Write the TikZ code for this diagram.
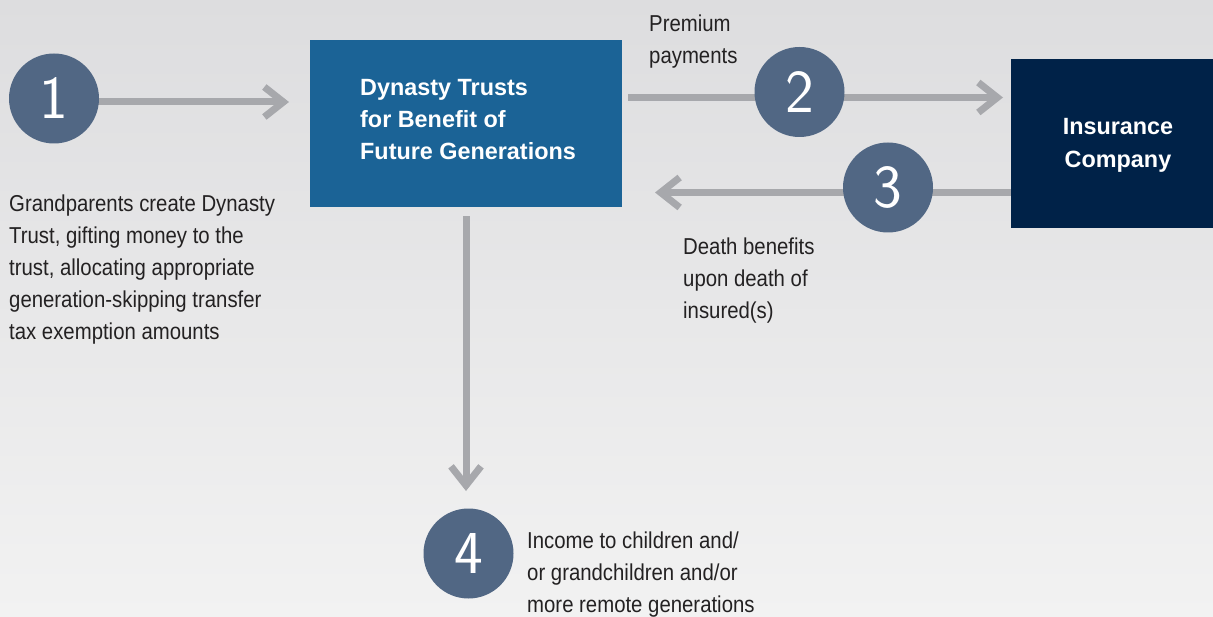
\documentclass[tikz,border=0pt]{standalone}
\usepackage{fontspec}
\setmainfont{Liberation Sans}[FakeStretch=0.885]
\newfontfamily\boldfam{Liberation Sans}[FakeStretch=0.995]
\usetikzlibrary{arrows.meta,backgrounds}
\definecolor{circfill}{RGB}{81,103,132}
\definecolor{linegray}{RGB}{167,168,172}
\definecolor{dynblue}{RGB}{27,99,150}
\definecolor{navy}{RGB}{0,34,72}
\definecolor{txtgray}{RGB}{35,33,34}
\definecolor{bgtop}{RGB}{221,221,223}
\definecolor{bgbot}{RGB}{242,242,242}
\tikzset{
  num/.style={circle, fill=circfill, minimum size=90pt, inner sep=0pt, text=white,
    font=\sffamily\fontsize{61}{61}\selectfont},
  conn/.style={draw=linegray, line width=7pt, -{Straight Barb[length=19pt,width=30pt]}},
  desc/.style={anchor=north west, inner sep=0pt, align=left, text=txtgray,
    font=\fontsize{23}{32}\selectfont},
  boxtxt/.style={inner sep=0pt, text=white, font=\boldfam\bfseries\fontsize{23.5}{32.3}\selectfont},
}
\begin{document}
\begin{tikzpicture}[x=1pt,y=-1pt]
\useasboundingbox (0,0) rectangle (1213,617);
\begin{pgfonlayer}{background}
\shade[top color=bgtop, bottom color=bgbot] (0,0) rectangle (1213,617);
\end{pgfonlayer}
% boxes
\node[fill=dynblue, anchor=north west, minimum width=312pt, minimum height=167pt, inner sep=0pt] (dyn) at (310,40) {};
\node[fill=navy, anchor=north west, minimum width=202pt, minimum height=169pt, inner sep=0pt] (ins) at (1011,59) {};
\node[boxtxt, anchor=north west, align=left] (dyntxt) at (360,79) {Dynasty Trusts\\for Benefit of\\Future Generations};
\node[boxtxt, anchor=north, align=center] (instxt) at (1118,118.5) {Insurance\\Company};
% circles
\node[num] (c1) at (54,98.5) {1};
\node[num] (c2) at (799.5,92) {2};
\node[num] (c3) at (888,187.5) {3};
\node[num] (c4) at (468.5,553.5) {4};
% arrow end points
\coordinate (t1) at (289,102);
\coordinate (t2) at (1003,97.5);
\coordinate (t3) at (655,192.5);
\coordinate (t4) at (466,491);
\begin{pgfonlayer}{background}
\draw[conn] (c1 |- t1) -- (t1);
\draw[conn, shorten <=6pt] (dyn.east |- t2) -- (t2);
\draw[conn] (ins.west |- t3) -- (t3);
\draw[conn, shorten <=9pt] (dyn.south -| t4) -- (t4);
\end{pgfonlayer}
% descriptions
\node[desc] (d1) at (9,195) {Grandparents create Dynasty\\Trust, gifting money to the\\trust, allocating appropriate\\generation-skipping transfer\\tax exemption amounts};
\node[desc] (d2) at (649,15) {Premium\\payments};
\node[desc] (d3) at (683,238) {Death benefits\\upon death of\\insured(s)};
\node[desc] (d4) at (527,532) {Income to children and/\\or grandchildren and/or\\more remote generations};
\end{tikzpicture}
\end{document}
